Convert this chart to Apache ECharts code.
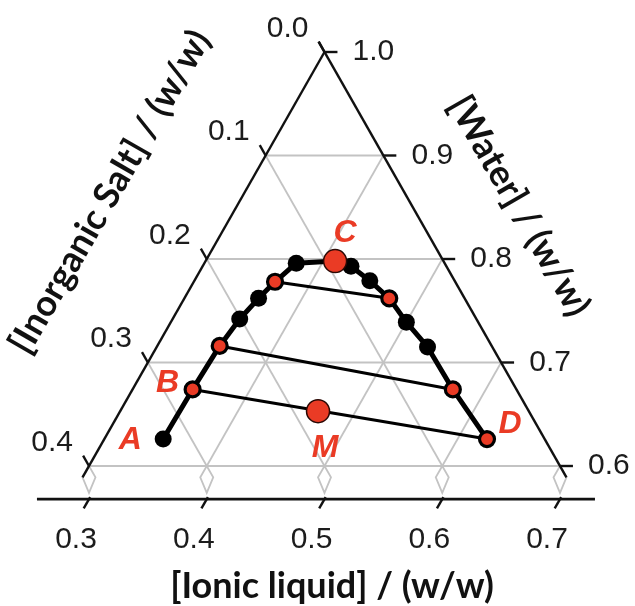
<!DOCTYPE html>
<html>
<head>
<meta charset="utf-8">
<script src="https://cdn.jsdelivr.net/npm/echarts@6/dist/echarts.min.js"></script>
<style>
  html, body { margin: 0; padding: 0; background: #ffffff; }
  #chart { width: 635px; height: 606px; }
</style>
</head>
<body>
<div id="chart"></div>
<script>
// Phase diagram (mass fractions): ionic liquid + inorganic salt + water.
// Water is the remainder: water = 1 - IL - salt.

// Binodal points shown as plain black dots
const blackIL   = [0.050, 0.057, 0.063, 0.078, 0.126, 0.149, 0.200, 0.230];
const blackSalt = [0.324, 0.201, 0.175, 0.126, 0.081, 0.072, 0.061, 0.055];

// Tie lines: salt-rich (bottom) phase and IL-rich (top) phase
const tieBottomIL   = [0.051, 0.053, 0.069];
const tieBottomSalt = [0.275, 0.231, 0.153];
const tieTopIL      = [0.325, 0.272, 0.174];
const tieTopSalt    = [0.049, 0.054, 0.064];

// Critical point C and mixture point M
const criticalIL = 0.110, criticalSalt = 0.092;
const mixIL = 0.168, mixSalt = 0.179;

// Tick values
const saltTicks  = [0.0, 0.1, 0.2, 0.3, 0.4];
const waterTicks = [1.0, 0.9, 0.8, 0.7, 0.6];
const ilTicks    = [0.3, 0.4, 0.5, 0.6, 0.7];
const gridSteps  = [0.1, 0.2, 0.3];

const RED = '#ea3b25';
const GRAY = '#c3c3c3';

// ternary -> plotting plane: x = IL + water/2, y = water
function toXY(il, salt) {
  const w = 1 - il - salt;
  return [il + w / 2, w];
}

const W0 = 0.6;          // lowest water fraction shown (triangle base)
const EXT = 0.011;       // edge extension below the base
const AXIS_W = 0.568;    // level of the bottom axis line

// ---- gray grid ----
const gridLines = [];
[0.6, 0.7, 0.8, 0.9].forEach(w => gridLines.push({ coords: [[w / 2, w], [1 - w / 2, w]] }));
gridSteps.forEach(k => {
  gridLines.push({ coords: [toXY(0, k), toXY(0.4 - k, k)] });
  gridLines.push({ coords: [toXY(k, 0), toXY(k, 0.4 - k)] });
});
// small diamonds under the base
ilTicks.forEach(x => {
  gridLines.push({ coords: [[x, W0], [x - EXT / 2, W0 - EXT], [x, 0.574], [x + EXT / 2, W0 - EXT], [x, W0]] });
});

// ---- black frame ----
const frameLines = [];
frameLines.push({ coords: [[(W0 - EXT) / 2, W0 - EXT], [0.5, 1.0]] });
frameLines.push({ coords: [[1 - 1.01 / 2, 1.01], [1 - (W0 - EXT) / 2, W0 - EXT]] });
saltTicks.forEach(s => {
  const p = toXY(0, s);
  frameLines.push({ coords: [p, [p[0] - 0.005, p[1] + 0.01]] });
});
waterTicks.forEach(w => {
  const p = [1 - w / 2, w];
  frameLines.push({ coords: [p, [p[0] + 0.011, w]] });
});
ilTicks.forEach(x => {
  frameLines.push({ coords: [[x + 0.001, AXIS_W + 0.002], [x - 0.0045, AXIS_W - 0.009]] });
});
const axisLine = [{ coords: [[0.2558, AXIS_W], [0.7297, AXIS_W]] }];

// ---- tie lines ----
const tieLines = tieBottomIL.map((il, i) => ({
  coords: [toXY(il, tieBottomSalt[i]), toXY(tieTopIL[i], tieTopSalt[i])]
}));

// ---- binodal curve through every measured point, ordered by IL fraction ----
const curvePts = [];
blackIL.forEach((il, i) => curvePts.push([il, blackSalt[i]]));
tieBottomIL.forEach((il, i) => curvePts.push([il, tieBottomSalt[i]]));
tieTopIL.forEach((il, i) => curvePts.push([il, tieTopSalt[i]]));
curvePts.push([criticalIL, criticalSalt]);
curvePts.sort((a, b) => a[0] - b[0]);
const curveXY = curvePts.map(p => toXY(p[0], p[1]));

const blackXY = blackIL.map((il, i) => toXY(il, blackSalt[i]));
const redXY = tieBottomIL.map((il, i) => toXY(il, tieBottomSalt[i]))
  .concat(tieTopIL.map((il, i) => toXY(il, tieTopSalt[i])));
const bigXY = [toXY(criticalIL, criticalSalt), toXY(mixIL, mixSalt)];

// point letters
const letterData = [
  { value: toXY(blackIL[0], blackSalt[0]), name: 'A', off: [-33, 1] },
  { value: toXY(tieBottomIL[0], tieBottomSalt[0]), name: 'B', off: [-25, -6] },
  { value: toXY(criticalIL, criticalSalt), name: 'C', off: [10, -28] },
  { value: toXY(tieTopIL[0], tieTopSalt[0]), name: 'D', off: [23, -15] },
  { value: toXY(mixIL, mixSalt), name: 'M', off: [7, 37] }
].map(d => ({ value: d.value, name: d.name, label: { offset: d.off } }));

const tickFont = { fontFamily: 'Liberation Sans', fontSize: 30, color: '#1c1c1c' };

function tickLabelSeries(points, texts, offset) {
  return {
    type: 'scatter', symbolSize: 0, silent: true, clip: false, z: 5,
    itemStyle: { opacity: 1 },
    data: points.map((p, i) => ({ value: p, name: texts[i] })),
    label: Object.assign({ show: true, position: 'inside', offset: offset,
      formatter: p => p.name }, tickFont)
  };
}

const saltLabelPts = saltTicks.map(s => { const p = toXY(0, s); return [p[0] - 0.005, p[1] + 0.01]; });
const waterLabelPts = waterTicks.map(w => [1 - w / 2 + 0.011, w]);
const ilLabelPts = ilTicks.map(x => [x, AXIS_W]);

const TITLE_FONT = 'bold 36px Lato';

const option = {
  animation: false,
  backgroundColor: '#ffffff',
  grid: { left: 89, top: 52, width: 471, height: 414, containLabel: false },
  xAxis: { type: 'value', min: 0.3, max: 0.7, show: false },
  yAxis: { type: 'value', min: 0.6, max: 1.0, show: false },
  series: [
    { type: 'lines', coordinateSystem: 'cartesian2d', polyline: true, clip: false, silent: true, z: 1,
      lineStyle: { color: GRAY, width: 1.8, opacity: 1 }, data: gridLines },
    { type: 'lines', coordinateSystem: 'cartesian2d', polyline: true, clip: false, silent: true, z: 2,
      lineStyle: { color: '#111111', width: 2.4, opacity: 1 }, data: frameLines },
    { type: 'lines', coordinateSystem: 'cartesian2d', polyline: true, clip: false, silent: true, z: 2,
      lineStyle: { color: '#111111', width: 2.8, opacity: 1 }, data: axisLine },
    { type: 'lines', coordinateSystem: 'cartesian2d', polyline: true, clip: false, silent: true, z: 3,
      lineStyle: { color: '#000000', width: 3, opacity: 1 }, data: tieLines },
    { type: 'line', data: curveXY, showSymbol: false, symbol: 'none', clip: false, silent: true, z: 3,
      lineStyle: { color: '#000000', width: 5, opacity: 1 } },
    { type: 'scatter', data: blackXY, symbolSize: 17, clip: false, silent: true, z: 4,
      itemStyle: { color: '#000000', opacity: 1 } },
    { type: 'scatter', data: redXY, symbolSize: 15, clip: false, silent: true, z: 4,
      itemStyle: { color: RED, borderColor: '#000000', borderWidth: 3.2, opacity: 1 } },
    { type: 'scatter', data: bigXY, symbolSize: 23, clip: false, silent: true, z: 4,
      itemStyle: { color: RED, borderColor: '#2a0804', borderWidth: 1.5, opacity: 1 } },
    { type: 'scatter', data: letterData, symbolSize: 0, clip: false, silent: true, z: 6,
      itemStyle: { opacity: 1 },
      label: { show: true, position: 'inside', formatter: p => p.name, color: RED,
        fontFamily: 'Liberation Sans', fontSize: 32, fontWeight: 'bold', fontStyle: 'italic' } },
    tickLabelSeries(saltLabelPts, saltTicks.map(v => v.toFixed(1)), [-31, -13]),
    tickLabelSeries(waterLabelPts, waterTicks.map(v => v.toFixed(1)), [36, 0]),
    tickLabelSeries(ilLabelPts, ilTicks.map(v => v.toFixed(1)), [-13, 41])
  ],
  graphic: [
    { type: 'text', x: 332, y: 586,
      style: { text: '[Ionic liquid] / (w/w)', x: 0, y: 0, fill: '#111111', font: TITLE_FONT,
        align: 'center', verticalAlign: 'middle' } },
    { type: 'text', x: 110, y: 192, rotation: Math.PI / 3,
      style: { text: '[Inorganic Salt] / (w/w)', x: 0, y: 0, fill: '#111111', font: TITLE_FONT,
        align: 'center', verticalAlign: 'middle' } },
    { type: 'text', x: 519, y: 206, rotation: -Math.PI / 3,
      style: { text: '[Water] / (w/w)', x: 0, y: 0, fill: '#111111', font: TITLE_FONT,
        align: 'center', verticalAlign: 'middle' } }
  ]
};

const chart = echarts.init(document.getElementById('chart'), null, { renderer: 'canvas' });
chart.setOption(option);
</script>
</body>
</html>
